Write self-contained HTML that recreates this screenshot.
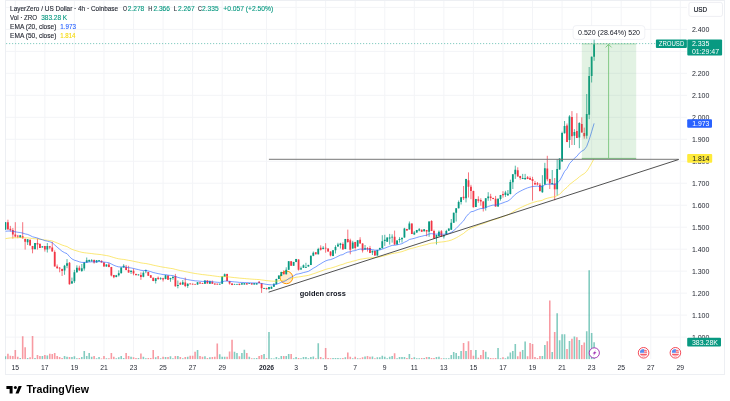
<!DOCTYPE html><html><head><meta charset="utf-8"><title>ZROUSD chart</title><style>
html,body{margin:0;padding:0;background:#ffffff;width:730px;height:401px;overflow:hidden}
svg{display:block} text{font-family:"Liberation Sans", Arial, sans-serif}
</style></head><body>
<svg width="730" height="401" viewBox="0 0 730 401">
<rect x="0" y="0" width="730" height="401" fill="#ffffff"/>
<rect x="5.5" y="0.5" width="719" height="374" fill="#ffffff" stroke="#edeff3" stroke-width="1"/>
<path d="M15.3 1V359 M44.86 1V359 M74.42 1V359 M103.97 1V359 M133.53 1V359 M163.08 1V359 M192.64 1V359 M222.2 1V359 M266.53 1V359 M296.09 1V359 M325.64 1V359 M355.2 1V359 M384.75 1V359 M414.31 1V359 M443.87 1V359 M473.42 1V359 M502.98 1V359 M532.53 1V359 M562.09 1V359 M591.65 1V359 M621.2 1V359 M650.76 1V359 M680.31 1V359 M6 7.4H687 M6 29.38H687 M6 51.36H687 M6 73.34H687 M6 95.32H687 M6 117.3H687 M6 139.28H687 M6 161.26H687 M6 183.24H687 M6 205.22H687 M6 227.2H687 M6 249.18H687 M6 271.16H687 M6 293.14H687 M6 315.12H687 M6 337.1H687" stroke="#f3f4f7" stroke-width="1" fill="none"/>
<clipPath id="pane"><rect x="5" y="1" width="682" height="358.5"/></clipPath><g clip-path="url(#pane)">
<path d="M4.65 356.23h1.6V359.3h-1.6ZM19.43 357.90h1.6V359.3h-1.6ZM26.82 357.90h1.6V359.3h-1.6ZM34.20 357.90h1.6V359.3h-1.6ZM41.59 356.00h1.6V359.3h-1.6ZM46.52 355.40h1.6V359.3h-1.6ZM63.76 356.00h1.6V359.3h-1.6ZM66.22 356.80h1.6V359.3h-1.6ZM71.15 357.10h1.6V359.3h-1.6ZM73.61 356.30h1.6V359.3h-1.6ZM76.08 358.20h1.6V359.3h-1.6ZM81.00 357.10h1.6V359.3h-1.6ZM83.46 351.10h1.6V359.3h-1.6ZM85.93 356.00h1.6V359.3h-1.6ZM88.39 353.00h1.6V359.3h-1.6ZM90.85 356.80h1.6V359.3h-1.6ZM95.78 358.20h1.6V359.3h-1.6ZM98.24 357.10h1.6V359.3h-1.6ZM105.63 358.20h1.6V359.3h-1.6ZM115.48 358.20h1.6V359.3h-1.6ZM117.95 357.30h1.6V359.3h-1.6ZM120.41 356.00h1.6V359.3h-1.6ZM122.87 357.90h1.6V359.3h-1.6ZM130.26 356.80h1.6V359.3h-1.6ZM137.65 357.90h1.6V359.3h-1.6ZM142.58 356.80h1.6V359.3h-1.6ZM145.04 358.20h1.6V359.3h-1.6ZM154.89 357.30h1.6V359.3h-1.6ZM159.82 358.20h1.6V359.3h-1.6ZM164.74 357.10h1.6V359.3h-1.6ZM169.67 356.20h1.6V359.3h-1.6ZM172.13 358.20h1.6V359.3h-1.6ZM177.06 356.00h1.6V359.3h-1.6ZM181.98 358.20h1.6V359.3h-1.6ZM186.91 356.80h1.6V359.3h-1.6ZM196.76 349.90h1.6V359.3h-1.6ZM204.15 356.20h1.6V359.3h-1.6ZM209.08 357.30h1.6V359.3h-1.6ZM218.93 354.30h1.6V359.3h-1.6ZM221.39 356.80h1.6V359.3h-1.6ZM223.86 356.80h1.6V359.3h-1.6ZM233.71 351.80h1.6V359.3h-1.6ZM236.17 352.90h1.6V359.3h-1.6ZM241.10 352.90h1.6V359.3h-1.6ZM243.56 349.70h1.6V359.3h-1.6ZM248.49 356.80h1.6V359.3h-1.6ZM253.41 358.20h1.6V359.3h-1.6ZM255.87 357.90h1.6V359.3h-1.6ZM263.26 354.00h1.6V359.3h-1.6ZM268.19 331.90h1.6V359.3h-1.6ZM270.65 358.20h1.6V359.3h-1.6ZM273.12 358.60h1.6V359.3h-1.6ZM275.58 357.10h1.6V359.3h-1.6ZM278.04 358.20h1.6V359.3h-1.6ZM280.50 356.00h1.6V359.3h-1.6ZM285.43 356.00h1.6V359.3h-1.6ZM287.89 354.00h1.6V359.3h-1.6ZM292.82 358.20h1.6V359.3h-1.6ZM295.28 357.10h1.6V359.3h-1.6ZM300.21 358.20h1.6V359.3h-1.6ZM302.67 357.10h1.6V359.3h-1.6ZM305.13 357.10h1.6V359.3h-1.6ZM307.60 358.20h1.6V359.3h-1.6ZM310.06 357.10h1.6V359.3h-1.6ZM312.52 356.50h1.6V359.3h-1.6ZM317.45 343.30h1.6V359.3h-1.6ZM322.38 358.20h1.6V359.3h-1.6ZM332.23 357.90h1.6V359.3h-1.6ZM334.69 357.90h1.6V359.3h-1.6ZM337.15 357.90h1.6V359.3h-1.6ZM339.62 358.20h1.6V359.3h-1.6ZM344.54 357.30h1.6V359.3h-1.6ZM351.93 358.20h1.6V359.3h-1.6ZM356.86 358.20h1.6V359.3h-1.6ZM364.25 356.50h1.6V359.3h-1.6ZM371.63 356.50h1.6V359.3h-1.6ZM376.56 357.30h1.6V359.3h-1.6ZM379.02 357.30h1.6V359.3h-1.6ZM381.49 355.70h1.6V359.3h-1.6ZM383.95 356.80h1.6V359.3h-1.6ZM386.41 358.20h1.6V359.3h-1.6ZM388.88 356.80h1.6V359.3h-1.6ZM391.34 356.00h1.6V359.3h-1.6ZM396.26 358.20h1.6V359.3h-1.6ZM398.73 357.10h1.6V359.3h-1.6ZM401.19 357.10h1.6V359.3h-1.6ZM403.65 357.10h1.6V359.3h-1.6ZM408.58 354.00h1.6V359.3h-1.6ZM413.51 357.30h1.6V359.3h-1.6ZM415.97 358.20h1.6V359.3h-1.6ZM418.43 358.20h1.6V359.3h-1.6ZM423.36 357.90h1.6V359.3h-1.6ZM428.28 357.10h1.6V359.3h-1.6ZM435.67 357.10h1.6V359.3h-1.6ZM438.14 356.80h1.6V359.3h-1.6ZM443.06 358.20h1.6V359.3h-1.6ZM445.53 358.20h1.6V359.3h-1.6ZM447.99 358.20h1.6V359.3h-1.6ZM450.45 355.10h1.6V359.3h-1.6ZM452.91 352.10h1.6V359.3h-1.6ZM455.38 352.90h1.6V359.3h-1.6ZM457.84 356.00h1.6V359.3h-1.6ZM460.30 351.10h1.6V359.3h-1.6ZM465.23 351.10h1.6V359.3h-1.6ZM475.08 350.00h1.6V359.3h-1.6ZM484.93 351.80h1.6V359.3h-1.6ZM487.40 357.30h1.6V359.3h-1.6ZM497.25 348.10h1.6V359.3h-1.6ZM499.71 358.20h1.6V359.3h-1.6ZM504.64 358.20h1.6V359.3h-1.6ZM507.10 356.60h1.6V359.3h-1.6ZM509.56 352.50h1.6V359.3h-1.6ZM512.03 351.10h1.6V359.3h-1.6ZM514.49 344.00h1.6V359.3h-1.6ZM521.88 350.00h1.6V359.3h-1.6ZM524.34 341.50h1.6V359.3h-1.6ZM541.58 356.10h1.6V359.3h-1.6ZM544.05 345.10h1.6V359.3h-1.6ZM551.43 352.10h1.6V359.3h-1.6ZM556.36 313.30h1.6V359.3h-1.6ZM558.82 340.20h1.6V359.3h-1.6ZM561.29 334.20h1.6V359.3h-1.6ZM563.75 334.20h1.6V359.3h-1.6ZM568.68 341.00h1.6V359.3h-1.6ZM573.60 336.40h1.6V359.3h-1.6ZM578.53 340.00h1.6V359.3h-1.6ZM585.92 331.20h1.6V359.3h-1.6ZM588.38 270.30h1.6V359.3h-1.6ZM590.84 333.00h1.6V359.3h-1.6ZM593.31 342.20h1.6V359.3h-1.6Z" fill="rgba(8,153,129,0.5)"/>
<path d="M7.11 353.80h1.6V359.3h-1.6ZM9.57 355.70h1.6V359.3h-1.6ZM12.04 356.00h1.6V359.3h-1.6ZM14.50 349.90h1.6V359.3h-1.6ZM16.96 356.80h1.6V359.3h-1.6ZM21.89 336.30h1.6V359.3h-1.6ZM24.35 347.30h1.6V359.3h-1.6ZM29.28 357.30h1.6V359.3h-1.6ZM31.74 336.00h1.6V359.3h-1.6ZM36.67 354.90h1.6V359.3h-1.6ZM39.13 356.00h1.6V359.3h-1.6ZM44.06 354.90h1.6V359.3h-1.6ZM48.98 353.80h1.6V359.3h-1.6ZM51.45 354.10h1.6V359.3h-1.6ZM53.91 353.10h1.6V359.3h-1.6ZM56.37 356.00h1.6V359.3h-1.6ZM58.83 357.10h1.6V359.3h-1.6ZM61.30 357.90h1.6V359.3h-1.6ZM68.69 357.10h1.6V359.3h-1.6ZM78.54 357.90h1.6V359.3h-1.6ZM93.32 356.00h1.6V359.3h-1.6ZM100.70 358.60h1.6V359.3h-1.6ZM103.17 356.00h1.6V359.3h-1.6ZM108.09 358.20h1.6V359.3h-1.6ZM110.56 352.90h1.6V359.3h-1.6ZM113.02 356.80h1.6V359.3h-1.6ZM125.34 352.90h1.6V359.3h-1.6ZM127.80 356.00h1.6V359.3h-1.6ZM132.72 357.30h1.6V359.3h-1.6ZM135.19 357.90h1.6V359.3h-1.6ZM140.11 353.50h1.6V359.3h-1.6ZM147.50 357.90h1.6V359.3h-1.6ZM149.97 357.90h1.6V359.3h-1.6ZM152.43 349.90h1.6V359.3h-1.6ZM157.35 356.00h1.6V359.3h-1.6ZM162.28 356.80h1.6V359.3h-1.6ZM167.21 357.10h1.6V359.3h-1.6ZM174.59 356.00h1.6V359.3h-1.6ZM179.52 357.10h1.6V359.3h-1.6ZM184.45 357.10h1.6V359.3h-1.6ZM189.37 355.70h1.6V359.3h-1.6ZM191.84 355.70h1.6V359.3h-1.6ZM194.30 351.80h1.6V359.3h-1.6ZM199.22 356.00h1.6V359.3h-1.6ZM201.69 356.80h1.6V359.3h-1.6ZM206.61 357.90h1.6V359.3h-1.6ZM211.54 357.10h1.6V359.3h-1.6ZM214.00 356.80h1.6V359.3h-1.6ZM216.47 343.60h1.6V359.3h-1.6ZM226.32 356.80h1.6V359.3h-1.6ZM228.78 351.60h1.6V359.3h-1.6ZM231.24 339.80h1.6V359.3h-1.6ZM238.63 356.20h1.6V359.3h-1.6ZM246.02 352.90h1.6V359.3h-1.6ZM250.95 358.20h1.6V359.3h-1.6ZM258.34 356.00h1.6V359.3h-1.6ZM260.80 354.90h1.6V359.3h-1.6ZM265.73 357.90h1.6V359.3h-1.6ZM282.97 356.00h1.6V359.3h-1.6ZM290.36 354.00h1.6V359.3h-1.6ZM297.75 357.90h1.6V359.3h-1.6ZM314.99 358.20h1.6V359.3h-1.6ZM319.91 357.10h1.6V359.3h-1.6ZM324.84 348.00h1.6V359.3h-1.6ZM327.30 357.90h1.6V359.3h-1.6ZM329.76 358.20h1.6V359.3h-1.6ZM342.08 357.90h1.6V359.3h-1.6ZM347.00 352.40h1.6V359.3h-1.6ZM349.47 356.80h1.6V359.3h-1.6ZM354.39 356.80h1.6V359.3h-1.6ZM359.32 358.20h1.6V359.3h-1.6ZM361.78 357.30h1.6V359.3h-1.6ZM366.71 356.00h1.6V359.3h-1.6ZM369.17 356.80h1.6V359.3h-1.6ZM374.10 358.20h1.6V359.3h-1.6ZM393.80 353.20h1.6V359.3h-1.6ZM406.12 357.90h1.6V359.3h-1.6ZM411.04 357.90h1.6V359.3h-1.6ZM420.90 357.90h1.6V359.3h-1.6ZM425.82 357.10h1.6V359.3h-1.6ZM430.75 357.90h1.6V359.3h-1.6ZM433.21 357.90h1.6V359.3h-1.6ZM440.60 358.20h1.6V359.3h-1.6ZM462.77 342.90h1.6V359.3h-1.6ZM467.69 341.20h1.6V359.3h-1.6ZM470.16 350.00h1.6V359.3h-1.6ZM472.62 355.80h1.6V359.3h-1.6ZM477.54 357.70h1.6V359.3h-1.6ZM480.01 354.90h1.6V359.3h-1.6ZM482.47 350.00h1.6V359.3h-1.6ZM489.86 358.00h1.6V359.3h-1.6ZM492.32 358.20h1.6V359.3h-1.6ZM494.79 358.00h1.6V359.3h-1.6ZM502.17 357.30h1.6V359.3h-1.6ZM516.95 356.20h1.6V359.3h-1.6ZM519.42 351.80h1.6V359.3h-1.6ZM526.80 356.20h1.6V359.3h-1.6ZM529.27 343.10h1.6V359.3h-1.6ZM531.73 344.00h1.6V359.3h-1.6ZM534.19 357.10h1.6V359.3h-1.6ZM536.66 358.10h1.6V359.3h-1.6ZM539.12 356.10h1.6V359.3h-1.6ZM546.51 341.20h1.6V359.3h-1.6ZM548.97 300.50h1.6V359.3h-1.6ZM553.90 332.00h1.6V359.3h-1.6ZM566.21 349.10h1.6V359.3h-1.6ZM571.14 338.70h1.6V359.3h-1.6ZM576.06 337.20h1.6V359.3h-1.6ZM580.99 344.90h1.6V359.3h-1.6ZM583.45 342.60h1.6V359.3h-1.6Z" fill="rgba(242,54,69,0.5)"/>
<circle cx="286.4" cy="277.4" r="6.3" fill="rgba(255,152,0,0.2)" stroke="#FF9800" stroke-width="1"/>
<path d="M5.45 222.00V230.00M20.23 235.00V238.00M27.62 239.00V245.00M35.00 243.00V249.20M42.39 246.30V247.50M47.32 243.00V252.50M64.56 264.90V274.80M67.02 259.10V268.20M71.95 277.60V283.80M74.41 269.80V283.00M76.88 265.30V272.70M81.80 264.00V271.90M84.26 262.00V270.60M86.73 257.50V262.80M89.19 259.50V262.00M91.65 259.10V261.60M96.58 260.00V262.60M99.04 260.00V261.50M106.43 264.30V266.70M116.28 274.90V277.30M118.75 270.30V276.50M121.21 267.30V273.40M123.67 264.20V267.50M131.06 270.30V274.00M138.45 274.30V275.50M143.38 271.20V277.30M145.84 269.50V273.20M155.69 278.00V283.50M160.62 277.30V279.80M165.54 274.90V279.30M170.47 277.80V281.80M172.93 276.40V279.70M177.86 280.50V288.30M182.78 280.10V285.00M187.71 283.40V287.90M197.56 282.00V284.80M204.95 280.30V284.00M209.88 280.50V284.00M219.73 283.60V284.80M222.19 276.20V284.00M224.66 273.50V277.00M234.51 283.80V284.80M236.97 283.80V284.80M241.90 283.00V284.80M244.36 283.00V284.60M249.29 283.20V284.00M254.21 283.00V284.60M256.67 283.00V284.60M264.06 287.80V288.90M268.99 286.90V289.40M271.45 286.50V288.90M273.92 283.00V286.90M276.38 278.70V284.40M278.84 275.40V279.10M281.30 271.70V276.20M286.23 267.30V274.50M288.69 261.00V270.00M293.62 261.80V265.90M296.08 258.90V262.20M301.01 266.50V269.60M303.47 264.50V268.00M305.93 262.80V268.00M308.40 264.70V266.70M310.86 255.60V265.10M313.32 251.50V256.20M318.25 247.80V254.50M323.18 246.10V249.40M333.03 250.00V256.20M335.49 245.30V253.50M337.95 242.80V246.70M340.42 242.80V248.60M345.34 238.90V249.20M352.73 240.80V248.80M357.66 240.10V246.70M365.05 245.00V249.80M372.44 250.60V255.00M377.36 249.80V255.70M379.82 247.70V249.80M382.29 235.20V248.50M384.75 234.80V245.90M387.21 237.40V242.00M389.68 233.90V244.60M392.14 234.30V242.60M397.06 240.30V244.80M399.53 237.20V242.60M401.99 237.20V242.60M404.45 227.80V237.80M409.38 221.50V229.60M414.31 231.00V234.80M416.77 229.90V232.80M419.23 228.00V231.30M424.16 229.10V231.50M429.08 221.30V236.80M436.47 234.70V244.50M438.94 230.50V236.50M443.86 234.70V238.50M446.33 229.80V234.60M448.79 228.40V231.00M451.25 219.00V229.90M453.71 212.60V222.90M456.18 208.10V221.50M458.64 200.50V208.50M461.10 197.10V204.50M466.03 178.80V202.40M475.88 198.90V207.10M485.73 198.10V210.60M488.20 192.20V200.80M498.05 198.50V206.70M500.51 194.90V200.60M505.44 190.80V196.90M507.90 190.00V196.00M510.36 179.70V194.40M512.83 174.10V189.00M515.29 165.70V178.90M522.68 173.90V179.10M525.14 173.90V179.70M542.38 175.20V192.80M544.85 162.80V184.80M552.23 170.00V184.40M557.16 159.30V195.60M559.62 158.30V169.80M562.09 131.70V161.60M564.55 121.00V133.50M569.48 115.20V147.80M574.40 129.20V145.00M579.33 122.20V148.20M586.72 94.00V138.70M589.18 67.00V119.20M591.64 56.50V82.50M594.11 36.90V60.80" stroke="#089981" stroke-width="0.7" fill="none"/>
<path d="M7.91 219.70V230.00M10.37 225.90V231.60M12.84 228.00V238.60M15.30 222.20V237.40M17.76 234.90V238.20M22.69 222.20V238.50M25.15 238.50V249.60M30.08 239.70V245.50M32.54 245.90V253.30M37.47 238.50V249.60M39.93 243.80V247.90M44.86 245.90V251.60M49.78 245.90V249.20M52.25 241.80V251.60M54.71 250.40V266.50M57.17 264.50V268.60M59.63 267.00V272.30M62.10 268.60V276.00M69.49 262.00V284.60M79.34 265.70V271.00M94.12 259.50V263.60M101.50 260.50V262.60M103.97 262.20V266.70M108.89 262.80V267.30M111.36 266.90V276.40M113.82 274.90V278.20M126.14 265.00V270.30M128.60 265.80V272.80M133.52 268.70V275.30M135.99 273.60V275.70M140.91 272.40V279.80M148.30 271.80V275.90M150.77 275.10V278.00M153.23 277.60V281.20M158.15 276.50V279.80M163.08 277.80V281.50M168.01 275.40V279.90M175.40 273.90V286.70M180.32 281.80V285.00M185.25 277.60V287.10M190.17 283.40V284.40M192.64 283.60V284.60M195.10 283.80V284.80M200.03 282.20V283.80M202.49 282.80V284.00M207.41 280.30V283.60M212.34 280.50V284.00M214.80 283.40V284.80M217.27 283.60V284.80M227.12 273.70V281.10M229.58 281.10V284.60M232.04 283.20V285.20M239.43 283.60V285.20M246.82 283.00V284.60M251.75 283.00V284.60M259.14 281.00V283.20M261.60 283.00V292.90M266.53 287.80V289.40M283.77 270.20V274.50M291.16 261.00V265.90M298.55 259.30V270.60M315.79 252.10V254.50M320.71 245.30V250.60M325.64 243.20V252.70M328.10 248.40V251.70M330.56 251.30V256.40M342.88 242.40V249.60M347.81 229.60V242.80M350.27 238.70V254.30M355.19 241.80V249.80M360.12 237.20V243.60M362.58 243.20V252.50M367.51 247.10V251.60M369.97 245.90V253.10M374.90 250.60V255.70M394.60 230.60V244.80M406.92 228.80V230.80M411.84 223.40V234.10M421.70 229.50V231.90M426.62 229.90V236.30M431.55 220.20V231.10M434.01 229.70V238.70M441.40 230.10V236.90M463.57 186.00V200.00M468.49 172.40V197.50M470.96 184.80V199.20M473.42 190.70V207.50M478.34 196.30V202.80M480.81 198.30V205.70M483.27 201.20V211.50M490.66 193.80V200.80M493.12 197.70V199.20M495.59 195.90V206.70M502.97 191.20V197.70M517.75 167.30V176.60M520.22 175.80V179.70M527.60 176.00V179.10M530.07 176.40V179.90M532.53 176.80V200.60M534.99 180.90V184.70M537.46 182.00V185.30M539.92 183.00V191.60M547.31 155.80V181.30M549.77 178.80V189.00M554.70 178.00V200.20M567.01 123.50V142.20M571.94 111.10V145.00M576.86 113.20V138.10M581.79 117.30V132.70M584.25 127.60V138.70" stroke="#F23645" stroke-width="0.7" fill="none"/>
<path d="M4.55 222.20h1.8V229.60h-1.8ZM19.33 235.30h1.8V237.40h-1.8ZM26.72 239.30h1.8V242.20h-1.8ZM34.10 243.00h1.8V249.20h-1.8ZM41.49 246.30h1.8V247.50h-1.8ZM46.42 245.90h1.8V249.60h-1.8ZM63.66 265.70h1.8V270.60h-1.8ZM66.12 263.20h1.8V265.70h-1.8ZM71.05 281.30h1.8V283.40h-1.8ZM73.51 272.30h1.8V281.30h-1.8ZM75.97 267.80h1.8V272.30h-1.8ZM80.90 268.20h1.8V271.00h-1.8ZM83.36 262.40h1.8V268.60h-1.8ZM85.83 260.30h1.8V262.40h-1.8ZM88.29 260.00h1.8V261.60h-1.8ZM90.75 260.30h1.8V261.20h-1.8ZM95.68 260.30h1.8V262.40h-1.8ZM98.14 260.30h1.8V261.20h-1.8ZM105.53 264.50h1.8V266.50h-1.8ZM115.38 275.30h1.8V277.00h-1.8ZM117.85 273.20h1.8V275.30h-1.8ZM120.31 267.50h1.8V273.20h-1.8ZM122.77 265.80h1.8V267.50h-1.8ZM130.16 270.80h1.8V272.00h-1.8ZM137.55 274.50h1.8V275.30h-1.8ZM142.48 272.80h1.8V276.80h-1.8ZM144.94 270.00h1.8V271.20h-1.8ZM154.79 278.20h1.8V281.00h-1.8ZM159.72 278.20h1.8V279.00h-1.8ZM164.64 275.30h1.8V279.00h-1.8ZM169.57 278.00h1.8V279.30h-1.8ZM172.03 276.80h1.8V278.00h-1.8ZM176.96 285.00h1.8V285.90h-1.8ZM181.88 282.20h1.8V284.60h-1.8ZM186.81 283.80h1.8V285.90h-1.8ZM196.66 282.20h1.8V284.60h-1.8ZM204.05 280.50h1.8V283.80h-1.8ZM208.98 281.30h1.8V283.80h-1.8ZM218.83 283.80h1.8V284.60h-1.8ZM221.29 276.40h1.8V283.80h-1.8ZM223.76 274.30h1.8V276.80h-1.8ZM233.61 284.00h1.8V284.60h-1.8ZM236.07 284.00h1.8V284.60h-1.8ZM241.00 283.20h1.8V284.60h-1.8ZM243.46 283.20h1.8V284.40h-1.8ZM248.39 283.30h1.8V283.90h-1.8ZM253.31 283.20h1.8V284.40h-1.8ZM255.77 283.20h1.8V284.40h-1.8ZM263.16 288.00h1.8V288.70h-1.8ZM268.09 287.10h1.8V289.20h-1.8ZM270.55 286.70h1.8V288.70h-1.8ZM273.02 284.20h1.8V286.70h-1.8ZM275.48 278.90h1.8V284.20h-1.8ZM277.94 275.60h1.8V278.90h-1.8ZM280.40 271.90h1.8V276.00h-1.8ZM285.33 269.80h1.8V274.30h-1.8ZM287.79 261.20h1.8V269.80h-1.8ZM292.72 262.00h1.8V265.70h-1.8ZM295.18 259.10h1.8V262.00h-1.8ZM300.11 268.20h1.8V269.40h-1.8ZM302.57 265.30h1.8V267.80h-1.8ZM305.03 266.90h1.8V267.80h-1.8ZM307.50 264.90h1.8V266.50h-1.8ZM309.96 255.80h1.8V264.90h-1.8ZM312.42 252.70h1.8V255.80h-1.8ZM317.35 249.00h1.8V254.30h-1.8ZM322.28 247.80h1.8V249.00h-1.8ZM332.13 250.20h1.8V256.00h-1.8ZM334.59 246.90h1.8V250.20h-1.8ZM337.05 244.50h1.8V246.50h-1.8ZM339.52 243.60h1.8V244.90h-1.8ZM344.44 239.10h1.8V249.00h-1.8ZM351.83 242.40h1.8V248.60h-1.8ZM356.76 240.30h1.8V246.50h-1.8ZM364.15 248.20h1.8V249.60h-1.8ZM371.54 250.80h1.8V252.50h-1.8ZM376.46 250.00h1.8V255.50h-1.8ZM378.92 247.90h1.8V249.60h-1.8ZM381.39 241.30h1.8V248.30h-1.8ZM383.85 239.70h1.8V240.90h-1.8ZM386.31 237.60h1.8V241.80h-1.8ZM388.78 237.60h1.8V238.50h-1.8ZM391.24 236.80h1.8V237.60h-1.8ZM396.17 240.50h1.8V244.60h-1.8ZM398.63 238.90h1.8V240.10h-1.8ZM401.09 238.00h1.8V239.30h-1.8ZM403.55 228.60h1.8V237.60h-1.8ZM408.48 223.60h1.8V229.40h-1.8ZM413.41 232.60h1.8V234.60h-1.8ZM415.87 230.10h1.8V232.60h-1.8ZM418.33 229.30h1.8V230.50h-1.8ZM423.26 229.30h1.8V231.30h-1.8ZM428.18 221.50h1.8V231.70h-1.8ZM435.57 234.90h1.8V237.90h-1.8ZM438.04 231.70h1.8V236.30h-1.8ZM442.96 234.90h1.8V236.60h-1.8ZM445.43 231.10h1.8V234.40h-1.8ZM447.89 228.60h1.8V230.80h-1.8ZM450.35 222.70h1.8V229.70h-1.8ZM452.81 212.80h1.8V222.70h-1.8ZM455.28 208.30h1.8V212.80h-1.8ZM457.74 202.00h1.8V208.30h-1.8ZM460.20 197.30h1.8V202.00h-1.8ZM465.13 179.00h1.8V198.30h-1.8ZM474.98 199.10h1.8V206.90h-1.8ZM484.83 198.30h1.8V207.80h-1.8ZM487.30 196.60h1.8V198.30h-1.8ZM497.15 198.70h1.8V206.50h-1.8ZM499.61 195.10h1.8V199.10h-1.8ZM504.54 192.50h1.8V195.00h-1.8ZM507.00 193.70h1.8V195.20h-1.8ZM509.46 182.10h1.8V194.00h-1.8ZM511.93 174.30h1.8V182.20h-1.8ZM514.39 169.80h1.8V174.30h-1.8ZM521.78 178.00h1.8V178.90h-1.8ZM524.24 178.00h1.8V179.30h-1.8ZM541.48 185.40h1.8V192.20h-1.8ZM543.95 168.20h1.8V184.60h-1.8ZM551.33 183.00h1.8V184.20h-1.8ZM556.26 169.00h1.8V189.20h-1.8ZM558.72 158.50h1.8V169.60h-1.8ZM561.19 132.90h1.8V161.40h-1.8ZM563.65 125.90h1.8V133.30h-1.8ZM568.58 116.50h1.8V140.00h-1.8ZM573.50 132.10h1.8V135.80h-1.8ZM578.43 123.00h1.8V137.50h-1.8ZM585.82 114.00h1.8V135.80h-1.8ZM588.28 76.00h1.8V114.80h-1.8ZM590.74 56.70h1.8V75.90h-1.8ZM593.21 43.70h1.8V56.70h-1.8Z" fill="#089981"/>
<path d="M7.01 222.20h1.8V229.20h-1.8ZM9.47 228.80h1.8V230.00h-1.8ZM11.94 230.00h1.8V234.50h-1.8ZM14.40 234.50h1.8V236.60h-1.8ZM16.86 235.80h1.8V236.60h-1.8ZM21.79 236.20h1.8V238.20h-1.8ZM24.25 238.90h1.8V241.80h-1.8ZM29.18 239.70h1.8V245.50h-1.8ZM31.64 245.90h1.8V249.20h-1.8ZM36.57 243.00h1.8V244.60h-1.8ZM39.03 243.80h1.8V247.90h-1.8ZM43.96 245.90h1.8V249.60h-1.8ZM48.88 246.30h1.8V247.50h-1.8ZM51.35 247.50h1.8V251.60h-1.8ZM53.81 252.00h1.8V266.50h-1.8ZM56.27 266.50h1.8V268.20h-1.8ZM58.73 267.80h1.8V268.60h-1.8ZM61.20 269.00h1.8V271.00h-1.8ZM68.59 262.80h1.8V284.20h-1.8ZM78.44 267.80h1.8V270.20h-1.8ZM93.22 260.00h1.8V262.40h-1.8ZM100.60 260.80h1.8V262.40h-1.8ZM103.07 262.40h1.8V266.50h-1.8ZM107.99 264.50h1.8V266.90h-1.8ZM110.46 266.90h1.8V275.50h-1.8ZM112.92 274.90h1.8V277.30h-1.8ZM125.23 267.00h1.8V269.90h-1.8ZM127.70 270.00h1.8V272.40h-1.8ZM132.62 270.80h1.8V273.60h-1.8ZM135.09 274.00h1.8V274.90h-1.8ZM140.01 274.90h1.8V277.00h-1.8ZM147.40 272.00h1.8V275.70h-1.8ZM149.87 275.30h1.8V277.80h-1.8ZM152.33 277.80h1.8V281.00h-1.8ZM157.25 277.80h1.8V279.00h-1.8ZM162.18 278.20h1.8V279.40h-1.8ZM167.11 275.60h1.8V279.70h-1.8ZM174.50 276.00h1.8V286.30h-1.8ZM179.42 283.00h1.8V284.60h-1.8ZM184.35 282.60h1.8V285.90h-1.8ZM189.27 283.60h1.8V284.20h-1.8ZM191.74 283.80h1.8V284.40h-1.8ZM194.20 284.00h1.8V284.60h-1.8ZM199.12 282.60h1.8V283.40h-1.8ZM201.59 283.00h1.8V283.80h-1.8ZM206.51 280.50h1.8V283.40h-1.8ZM211.44 281.80h1.8V283.80h-1.8ZM213.90 283.60h1.8V284.60h-1.8ZM216.37 283.80h1.8V284.60h-1.8ZM226.22 273.90h1.8V280.90h-1.8ZM228.68 281.30h1.8V283.40h-1.8ZM231.14 283.40h1.8V285.00h-1.8ZM238.53 283.80h1.8V285.00h-1.8ZM245.92 283.20h1.8V284.40h-1.8ZM250.85 283.20h1.8V284.40h-1.8ZM258.24 281.80h1.8V283.00h-1.8ZM260.70 283.20h1.8V288.30h-1.8ZM265.63 288.00h1.8V289.20h-1.8ZM282.87 271.90h1.8V274.30h-1.8ZM290.26 261.20h1.8V265.70h-1.8ZM297.65 259.50h1.8V269.80h-1.8ZM314.89 252.30h1.8V254.30h-1.8ZM319.81 247.80h1.8V249.80h-1.8ZM324.74 247.80h1.8V248.60h-1.8ZM327.20 248.60h1.8V251.50h-1.8ZM329.66 251.50h1.8V255.60h-1.8ZM341.98 244.00h1.8V249.40h-1.8ZM346.91 239.10h1.8V242.00h-1.8ZM349.37 240.30h1.8V249.80h-1.8ZM354.29 242.00h1.8V248.00h-1.8ZM359.22 239.70h1.8V243.40h-1.8ZM361.68 243.40h1.8V250.40h-1.8ZM366.61 248.00h1.8V249.20h-1.8ZM369.07 247.90h1.8V252.90h-1.8ZM374.00 250.80h1.8V255.50h-1.8ZM393.70 236.80h1.8V244.60h-1.8ZM406.02 229.00h1.8V230.60h-1.8ZM410.94 223.60h1.8V233.90h-1.8ZM420.80 229.70h1.8V231.70h-1.8ZM425.72 230.10h1.8V231.60h-1.8ZM430.65 221.00h1.8V230.90h-1.8ZM433.11 230.90h1.8V238.40h-1.8ZM440.50 231.30h1.8V236.70h-1.8ZM462.67 196.70h1.8V198.30h-1.8ZM467.59 180.20h1.8V186.80h-1.8ZM470.06 186.80h1.8V190.90h-1.8ZM472.52 190.90h1.8V207.30h-1.8ZM477.44 199.20h1.8V200.80h-1.8ZM479.91 200.00h1.8V201.60h-1.8ZM482.37 201.40h1.8V208.20h-1.8ZM489.76 196.60h1.8V198.00h-1.8ZM492.22 197.90h1.8V199.00h-1.8ZM494.69 198.70h1.8V206.50h-1.8ZM502.07 194.00h1.8V195.20h-1.8ZM516.85 170.20h1.8V176.40h-1.8ZM519.32 176.00h1.8V178.00h-1.8ZM526.70 177.20h1.8V178.90h-1.8ZM529.17 178.00h1.8V179.70h-1.8ZM531.63 178.90h1.8V181.00h-1.8ZM534.09 183.10h1.8V184.50h-1.8ZM536.56 183.30h1.8V184.50h-1.8ZM539.02 184.70h1.8V191.10h-1.8ZM546.41 168.50h1.8V179.30h-1.8ZM548.87 179.00h1.8V183.40h-1.8ZM553.80 183.40h1.8V189.20h-1.8ZM566.11 125.50h1.8V142.00h-1.8ZM571.04 116.90h1.8V136.20h-1.8ZM575.96 130.90h1.8V137.90h-1.8ZM580.89 123.90h1.8V132.50h-1.8ZM583.35 132.90h1.8V136.20h-1.8Z" fill="#F23645"/>
<polyline points="5.50,238.63 7.91,238.26 10.37,237.94 12.84,237.80 15.30,237.75 17.76,237.71 20.23,237.61 22.69,237.64 25.15,237.80 27.62,237.86 30.08,238.16 32.54,238.59 35.00,238.76 37.47,238.99 39.93,239.34 42.39,239.62 44.86,240.01 47.32,240.24 49.78,240.52 52.25,240.96 54.71,241.96 57.17,242.99 59.63,243.99 62.10,245.05 64.56,245.86 67.02,246.54 69.49,248.02 71.95,249.32 74.41,250.22 76.88,250.91 79.34,251.67 81.80,252.32 84.26,252.71 86.73,253.01 89.19,253.29 91.65,253.56 94.12,253.91 96.58,254.16 99.04,254.40 101.50,254.71 103.97,255.17 106.43,255.54 108.89,255.99 111.36,256.75 113.82,257.56 116.28,258.25 118.75,258.84 121.21,259.18 123.67,259.44 126.14,259.85 128.60,260.34 131.06,260.75 133.52,261.25 135.99,261.79 138.45,262.29 140.91,262.87 143.38,263.25 145.84,263.52 148.30,264.00 150.77,264.54 153.23,265.18 155.69,265.69 158.15,266.22 160.62,266.69 163.08,267.18 165.54,267.50 168.01,267.98 170.47,268.37 172.93,268.70 175.40,269.39 177.86,270.01 180.32,270.58 182.78,271.03 185.25,271.62 187.71,272.10 190.17,272.57 192.64,273.03 195.10,273.49 197.56,273.83 200.03,274.20 202.49,274.58 204.95,274.81 207.41,275.15 209.88,275.39 212.34,275.72 214.80,276.07 217.27,276.40 219.73,276.69 222.19,276.68 224.66,276.59 227.12,276.76 229.58,277.02 232.04,277.33 234.51,277.59 236.97,277.84 239.43,278.12 241.90,278.32 244.36,278.51 246.82,278.75 249.29,278.93 251.75,279.14 254.21,279.30 256.67,279.45 259.14,279.59 261.60,279.94 264.06,280.25 266.53,280.60 268.99,280.86 271.45,281.09 273.92,281.21 276.38,281.12 278.84,280.90 281.30,280.55 283.77,280.30 286.23,279.89 288.69,279.16 291.16,278.63 293.62,277.98 296.08,277.24 298.55,276.95 301.01,276.60 303.47,276.16 305.93,275.80 308.40,275.37 310.86,274.60 313.32,273.74 315.79,272.98 318.25,272.04 320.71,271.17 323.18,270.25 325.64,269.40 328.10,268.70 330.56,268.19 333.03,267.48 335.49,266.67 337.95,265.80 340.42,264.93 342.88,264.32 345.34,263.34 347.81,262.50 350.27,262.00 352.73,261.23 355.19,260.71 357.66,259.91 360.12,259.27 362.58,258.92 365.05,258.50 367.51,258.13 369.97,257.93 372.44,257.65 374.90,257.56 377.36,257.27 379.82,256.90 382.29,256.29 384.75,255.64 387.21,254.93 389.68,254.25 392.14,253.57 394.60,253.21 397.06,252.72 399.53,252.17 401.99,251.62 404.45,250.72 406.92,249.93 409.38,248.89 411.84,248.31 414.31,247.69 416.77,247.00 419.23,246.31 421.70,245.73 424.16,245.09 426.62,244.56 429.08,243.66 431.55,243.16 434.01,242.97 436.47,242.65 438.94,242.22 441.40,242.01 443.86,241.73 446.33,241.31 448.79,240.81 451.25,240.10 453.71,239.03 456.18,237.83 458.64,236.42 461.10,234.89 463.57,233.45 466.03,231.32 468.49,229.57 470.96,228.05 473.42,227.24 475.88,226.14 478.34,225.14 480.81,224.22 483.27,223.59 485.73,222.60 488.20,221.58 490.66,220.66 493.12,219.81 495.59,219.28 498.05,218.48 500.51,217.56 502.97,216.68 505.44,215.74 507.90,214.87 510.36,213.59 512.83,212.05 515.29,210.39 517.75,209.06 520.22,207.84 522.68,206.67 525.14,205.54 527.60,204.50 530.07,203.53 532.53,202.64 534.99,201.93 537.46,201.25 539.92,200.85 542.38,200.24 544.85,198.99 547.31,198.22 549.77,197.63 552.23,197.06 554.70,196.75 557.16,195.66 559.62,194.21 562.09,191.80 564.55,189.22 567.01,187.37 569.48,184.59 571.94,182.69 574.40,180.71 576.86,179.03 579.33,176.83 581.79,175.09 584.25,173.57 586.72,171.23 589.18,167.50 591.64,163.15 594.11,158.47" fill="none" stroke="#F9DC2E" stroke-width="1" stroke-opacity="0.65" stroke-linejoin="round"/>
<polyline points="5.50,231.25 7.91,231.05 10.37,230.95 12.84,231.29 15.30,231.80 17.76,232.25 20.23,232.54 22.69,233.08 25.15,233.91 27.62,234.43 30.08,235.48 32.54,236.79 35.00,237.38 37.47,238.07 39.93,239.00 42.39,239.70 44.86,240.64 47.32,241.14 49.78,241.75 52.25,242.69 54.71,244.95 57.17,247.17 59.63,249.21 62.10,251.28 64.56,252.66 67.02,253.66 69.49,256.57 71.95,258.92 74.41,260.20 76.88,260.92 79.34,261.81 81.80,262.42 84.26,262.41 86.73,262.21 89.19,262.00 91.65,261.84 94.12,261.89 96.58,261.74 99.04,261.60 101.50,261.68 103.97,262.14 106.43,262.36 108.89,262.80 111.36,264.01 113.82,265.27 116.28,266.23 118.75,266.89 121.21,266.95 123.67,266.84 126.14,267.13 128.60,267.63 131.06,267.93 133.52,268.47 135.99,269.09 138.45,269.60 140.91,270.31 143.38,270.54 145.84,270.49 148.30,270.99 150.77,271.64 153.23,272.53 155.69,273.07 158.15,273.63 160.62,274.07 163.08,274.58 165.54,274.65 168.01,275.13 170.47,275.40 172.93,275.53 175.40,276.56 177.86,277.36 180.32,278.05 182.78,278.45 185.25,279.16 187.71,279.60 190.17,280.04 192.64,280.45 195.10,280.85 197.56,280.98 200.03,281.21 202.49,281.45 204.95,281.36 207.41,281.56 209.88,281.53 212.34,281.75 214.80,282.02 217.27,282.27 219.73,282.41 222.19,281.84 224.66,281.12 227.12,281.10 229.58,281.32 232.04,281.67 234.51,281.89 236.97,282.09 239.43,282.37 241.90,282.45 244.36,282.52 246.82,282.70 249.29,282.77 251.75,282.92 254.21,282.95 256.67,282.97 259.14,282.97 261.60,283.48 264.06,283.91 266.53,284.42 268.99,284.67 271.45,284.86 273.92,284.80 276.38,284.24 278.84,283.42 281.30,282.32 283.77,281.56 286.23,280.44 288.69,278.60 291.16,277.38 293.62,275.91 296.08,274.31 298.55,273.88 301.01,273.34 303.47,272.57 305.93,272.03 308.40,271.35 310.86,269.87 313.32,268.24 315.79,266.91 318.25,265.20 320.71,263.74 323.18,262.22 325.64,260.92 328.10,260.02 330.56,259.60 333.03,258.71 335.49,257.58 337.95,256.34 340.42,255.12 342.88,254.58 345.34,253.10 347.81,252.05 350.27,251.83 352.73,250.93 355.19,250.66 357.66,249.67 360.12,249.07 362.58,249.20 365.05,249.10 367.51,249.11 369.97,249.47 372.44,249.60 374.90,250.16 377.36,250.15 379.82,249.93 382.29,249.11 384.75,248.21 387.21,247.20 389.68,246.29 392.14,245.38 394.60,245.31 397.06,244.85 399.53,244.29 401.99,243.69 404.45,242.25 406.92,241.14 409.38,239.47 411.84,238.94 414.31,238.34 416.77,237.55 419.23,236.77 421.70,236.28 424.16,235.62 426.62,235.24 429.08,233.93 431.55,233.64 434.01,234.09 436.47,234.17 438.94,233.93 441.40,234.20 443.86,234.26 446.33,233.96 448.79,233.45 451.25,232.43 453.71,230.56 456.18,228.44 458.64,225.92 461.10,223.20 463.57,220.82 466.03,216.84 468.49,213.98 470.96,211.78 473.42,211.35 475.88,210.19 478.34,209.29 480.81,208.56 483.27,208.53 485.73,207.55 488.20,206.51 490.66,205.70 493.12,205.06 495.59,205.20 498.05,204.58 500.51,203.68 502.97,202.87 505.44,201.88 507.90,201.10 510.36,199.29 512.83,196.91 515.29,194.33 517.75,192.62 520.22,191.23 522.68,189.97 525.14,188.83 527.60,187.88 530.07,187.10 532.53,186.52 534.99,186.33 537.46,186.16 539.92,186.63 542.38,186.51 544.85,184.77 547.31,184.25 549.77,184.17 552.23,184.05 554.70,184.54 557.16,183.06 559.62,180.72 562.09,176.17 564.55,171.38 567.01,168.58 569.48,163.62 571.94,161.01 574.40,158.26 576.86,156.32 579.33,153.15 581.79,151.18 584.25,149.75 586.72,146.35 589.18,139.65 591.64,131.75 594.11,123.36" fill="none" stroke="#2962FF" stroke-width="1" stroke-opacity="0.62" stroke-linejoin="round"/>
</g>
<rect x="581.8" y="43.6" width="54.4" height="114.8" fill="rgba(76,175,80,0.16)"/>
<path d="M581.8 158.4H636.2" stroke="#7cc47f" stroke-width="1"/>
<path d="M581.8 43.9H636.2" stroke="#a5d6a7" stroke-width="0.8"/>
<path d="M608.6 158V44.4M605.6 47.4L608.6 44.4L611.6 47.4" stroke="#72c275" stroke-width="0.85" fill="none"/>
<path d="M268.9 159.3H678.7" stroke="#707070" stroke-width="0.95"/>
<path d="M268.6 292.2L678.7 159.5" stroke="#3d3d3d" stroke-width="0.9"/>
<path d="M6 43.6H656" stroke="#089981" stroke-width="0.9" stroke-dasharray="1.2 1.8" opacity="0.55"/>
<text x="299.8" y="295.7" font-size="7.4" font-weight="bold" fill="#131722" textLength="46" lengthAdjust="spacingAndGlyphs">golden cross</text>
<rect x="573.1" y="25.6" width="71.7" height="13.8" rx="3" fill="#ffffff" stroke="#e6e8ee" stroke-width="0.6"/>
<text x="609" y="35.2" font-size="7" fill="#131722" text-anchor="middle" textLength="62" lengthAdjust="spacingAndGlyphs">0.520 (28.64%) 520</text>
<text x="691.9" y="32.38" font-size="7" fill="#1e222d">2.400</text>
<text x="691.9" y="76.34" font-size="7" fill="#1e222d">2.200</text>
<text x="691.9" y="98.32" font-size="7" fill="#1e222d">2.100</text>
<text x="691.9" y="120.30" font-size="7" fill="#1e222d">2.000</text>
<text x="691.9" y="142.28" font-size="7" fill="#1e222d">1.900</text>
<text x="691.9" y="164.26" font-size="7" fill="#1e222d">1.800</text>
<text x="691.9" y="186.24" font-size="7" fill="#1e222d">1.700</text>
<text x="691.9" y="208.22" font-size="7" fill="#1e222d">1.600</text>
<text x="691.9" y="230.20" font-size="7" fill="#1e222d">1.500</text>
<text x="691.9" y="252.18" font-size="7" fill="#1e222d">1.400</text>
<text x="691.9" y="274.16" font-size="7" fill="#1e222d">1.300</text>
<text x="691.9" y="296.14" font-size="7" fill="#1e222d">1.200</text>
<text x="691.9" y="318.12" font-size="7" fill="#1e222d">1.100</text>
<text x="691.9" y="340.10" font-size="7" fill="#1e222d">1.000</text>
<rect x="688.9" y="2.4" width="33.6" height="14" rx="2" fill="#ffffff" stroke="#e6e8ee" stroke-width="0.7"/>
<text x="693.8" y="12" font-size="6.6" fill="#131722" stroke="#131722" stroke-width="0.18" textLength="13.3" lengthAdjust="spacingAndGlyphs">USD</text>
<rect x="655.9" y="39.4" width="31" height="8.7" rx="1" fill="#089981"/>
<text x="658.7" y="46.1" font-size="6.3" fill="#ffffff" textLength="25.6" lengthAdjust="spacingAndGlyphs">ZROUSD</text>
<rect x="687.3" y="39.4" width="34.8" height="16.2" rx="1" fill="#089981"/>
<text x="691.9" y="46.3" font-size="7" fill="#ffffff">2.335</text>
<text x="691.9" y="53.9" font-size="7" fill="#ffffff">01:29:47</text>
<rect x="687.2" y="119.3" width="24.8" height="8.4" rx="1" fill="#2962FF"/>
<text x="692.2" y="126" font-size="6.9" fill="#ffffff">1.973</text>
<rect x="687.2" y="154.1" width="25" height="8.7" rx="1" fill="#FFEB3B"/>
<text x="692.2" y="160.9" font-size="6.9" fill="#131722">1.814</text>
<rect x="687.2" y="337.7" width="33.8" height="8.8" rx="1" fill="#089981"/>
<text x="691.9" y="344.6" font-size="7" fill="#ffffff">383.28K</text>
<text x="15.30" y="369.8" font-size="6.8" fill="#1e222d" text-anchor="middle">15</text>
<text x="44.86" y="369.8" font-size="6.8" fill="#1e222d" text-anchor="middle">17</text>
<text x="74.42" y="369.8" font-size="6.8" fill="#1e222d" text-anchor="middle">19</text>
<text x="103.97" y="369.8" font-size="6.8" fill="#1e222d" text-anchor="middle">21</text>
<text x="133.53" y="369.8" font-size="6.8" fill="#1e222d" text-anchor="middle">23</text>
<text x="163.08" y="369.8" font-size="6.8" fill="#1e222d" text-anchor="middle">25</text>
<text x="192.64" y="369.8" font-size="6.8" fill="#1e222d" text-anchor="middle">27</text>
<text x="222.20" y="369.8" font-size="6.8" fill="#1e222d" text-anchor="middle">29</text>
<text x="266.53" y="369.8" font-size="6.8" fill="#1e222d" text-anchor="middle" font-weight="bold">2026</text>
<text x="296.09" y="369.8" font-size="6.8" fill="#1e222d" text-anchor="middle">3</text>
<text x="325.64" y="369.8" font-size="6.8" fill="#1e222d" text-anchor="middle">5</text>
<text x="355.20" y="369.8" font-size="6.8" fill="#1e222d" text-anchor="middle">7</text>
<text x="384.75" y="369.8" font-size="6.8" fill="#1e222d" text-anchor="middle">9</text>
<text x="414.31" y="369.8" font-size="6.8" fill="#1e222d" text-anchor="middle">11</text>
<text x="443.87" y="369.8" font-size="6.8" fill="#1e222d" text-anchor="middle">13</text>
<text x="473.42" y="369.8" font-size="6.8" fill="#1e222d" text-anchor="middle">15</text>
<text x="502.98" y="369.8" font-size="6.8" fill="#1e222d" text-anchor="middle">17</text>
<text x="532.53" y="369.8" font-size="6.8" fill="#1e222d" text-anchor="middle">19</text>
<text x="562.09" y="369.8" font-size="6.8" fill="#1e222d" text-anchor="middle">21</text>
<text x="591.65" y="369.8" font-size="6.8" fill="#1e222d" text-anchor="middle">23</text>
<text x="621.20" y="369.8" font-size="6.8" fill="#1e222d" text-anchor="middle">25</text>
<text x="650.76" y="369.8" font-size="6.8" fill="#1e222d" text-anchor="middle">27</text>
<text x="680.31" y="369.8" font-size="6.8" fill="#1e222d" text-anchor="middle">29</text>
<circle cx="594.3" cy="352.9" r="5.1" fill="#ffffff" stroke="#9C27B0" stroke-width="0.9"/>
<path d="M596.1 349.9L592.6 353.5H594.5L592.9 356.1L596.5 352.3H594.6Z" fill="#9C27B0"/>
<circle cx="643.6" cy="352.8" r="5.3" fill="#ffffff" stroke="#F23645" stroke-width="0.9"/>
<clipPath id="f643"><circle cx="643.6" cy="352.8" r="3.7"/></clipPath>
<g clip-path="url(#f643)"><rect x="639.9" y="349.1" width="7.4" height="7.4" fill="#ffffff"/><rect x="639.9" y="349.1" width="4.2" height="3.7" fill="#5b8def"/><rect x="644.1" y="349.8" width="3.2" height="0.9" fill="#F23645"/><rect x="644.1" y="351.6" width="3.2" height="1.0" fill="#F23645"/><rect x="639.9" y="353.8" width="7.4" height="1.0" fill="#F23645"/><rect x="639.9" y="355.6" width="7.4" height="1.0" fill="#F23645"/></g>
<circle cx="675.4" cy="352.8" r="5.3" fill="#ffffff" stroke="#F23645" stroke-width="0.9"/>
<clipPath id="f675"><circle cx="675.4" cy="352.8" r="3.7"/></clipPath>
<g clip-path="url(#f675)"><rect x="671.6999999999999" y="349.1" width="7.4" height="7.4" fill="#ffffff"/><rect x="671.6999999999999" y="349.1" width="4.2" height="3.7" fill="#5b8def"/><rect x="675.9" y="349.8" width="3.2" height="0.9" fill="#F23645"/><rect x="675.9" y="351.6" width="3.2" height="1.0" fill="#F23645"/><rect x="671.6999999999999" y="353.8" width="7.4" height="1.0" fill="#F23645"/><rect x="671.6999999999999" y="355.6" width="7.4" height="1.0" fill="#F23645"/></g>
<g class="lg">
<text x="10.1" y="10.9" font-size="7" fill="#1e222d" stroke="#1e222d" stroke-width="0.12" textLength="108" lengthAdjust="spacingAndGlyphs">LayerZero / US Dollar · 4h · Coinbase</text>
<text x="123.1" y="10.9" font-size="7" fill="#1e222d" stroke="#1e222d" stroke-width="0.12" textLength="4.0" lengthAdjust="spacingAndGlyphs">O</text>
<text x="127.7" y="10.9" font-size="7" fill="#089981" stroke="#089981" stroke-width="0.12" textLength="16.6" lengthAdjust="spacingAndGlyphs">2.278</text>
<text x="148.3" y="10.9" font-size="7" fill="#1e222d" stroke="#1e222d" stroke-width="0.12" textLength="4.0" lengthAdjust="spacingAndGlyphs">H</text>
<text x="153.4" y="10.9" font-size="7" fill="#089981" stroke="#089981" stroke-width="0.12" textLength="16.6" lengthAdjust="spacingAndGlyphs">2.366</text>
<text x="173.7" y="10.9" font-size="7" fill="#1e222d" stroke="#1e222d" stroke-width="0.12" textLength="3.3" lengthAdjust="spacingAndGlyphs">L</text>
<text x="178.1" y="10.9" font-size="7" fill="#089981" stroke="#089981" stroke-width="0.12" textLength="16.6" lengthAdjust="spacingAndGlyphs">2.267</text>
<text x="197.9" y="10.9" font-size="7" fill="#1e222d" stroke="#1e222d" stroke-width="0.12" textLength="3.9" lengthAdjust="spacingAndGlyphs">C</text>
<text x="202.1" y="10.9" font-size="7" fill="#089981" stroke="#089981" stroke-width="0.12" textLength="16.6" lengthAdjust="spacingAndGlyphs">2.335</text>
<text x="223.3" y="10.9" font-size="7" fill="#089981" stroke="#089981" stroke-width="0.12" textLength="50" lengthAdjust="spacingAndGlyphs">+0.057 (+2.50%)</text>
<text x="10.1" y="19.8" font-size="7" fill="#1e222d" stroke="#1e222d" stroke-width="0.12" textLength="27" lengthAdjust="spacingAndGlyphs">Vol · ZRO</text>
<text x="41.2" y="19.8" font-size="7" fill="#089981" stroke="#089981" stroke-width="0.12" textLength="26" lengthAdjust="spacingAndGlyphs">383.28 K</text>
<text x="10.1" y="28.9" font-size="7" fill="#1e222d" stroke="#1e222d" stroke-width="0.12" textLength="46.3" lengthAdjust="spacingAndGlyphs">EMA (20, close)</text>
<text x="60.3" y="28.9" font-size="7" fill="#2962FF" stroke="#2962FF" stroke-width="0.12" textLength="15.7" lengthAdjust="spacingAndGlyphs">1.973</text>
<text x="10.1" y="38.0" font-size="7" fill="#1e222d" stroke="#1e222d" stroke-width="0.12" textLength="46.3" lengthAdjust="spacingAndGlyphs">EMA (50, close)</text>
<text x="60.3" y="38.0" font-size="7" fill="#F5D90A" stroke="#F5D90A" stroke-width="0.12" textLength="15.2" lengthAdjust="spacingAndGlyphs">1.814</text>
</g>
<path d="M6.4 386.1H12.6V393.6H9.6V388.9H6.4Z" fill="#000"/>
<circle cx="15.4" cy="387.4" r="1.5" fill="#000"/>
<path d="M18.6 386.1H21.8L18.6 393.5H15.5Z" fill="#000"/>
<text x="26.4" y="393.4" font-size="10.2" font-weight="bold" fill="#000" textLength="62.6" lengthAdjust="spacingAndGlyphs">TradingView</text>
</svg></body></html>
